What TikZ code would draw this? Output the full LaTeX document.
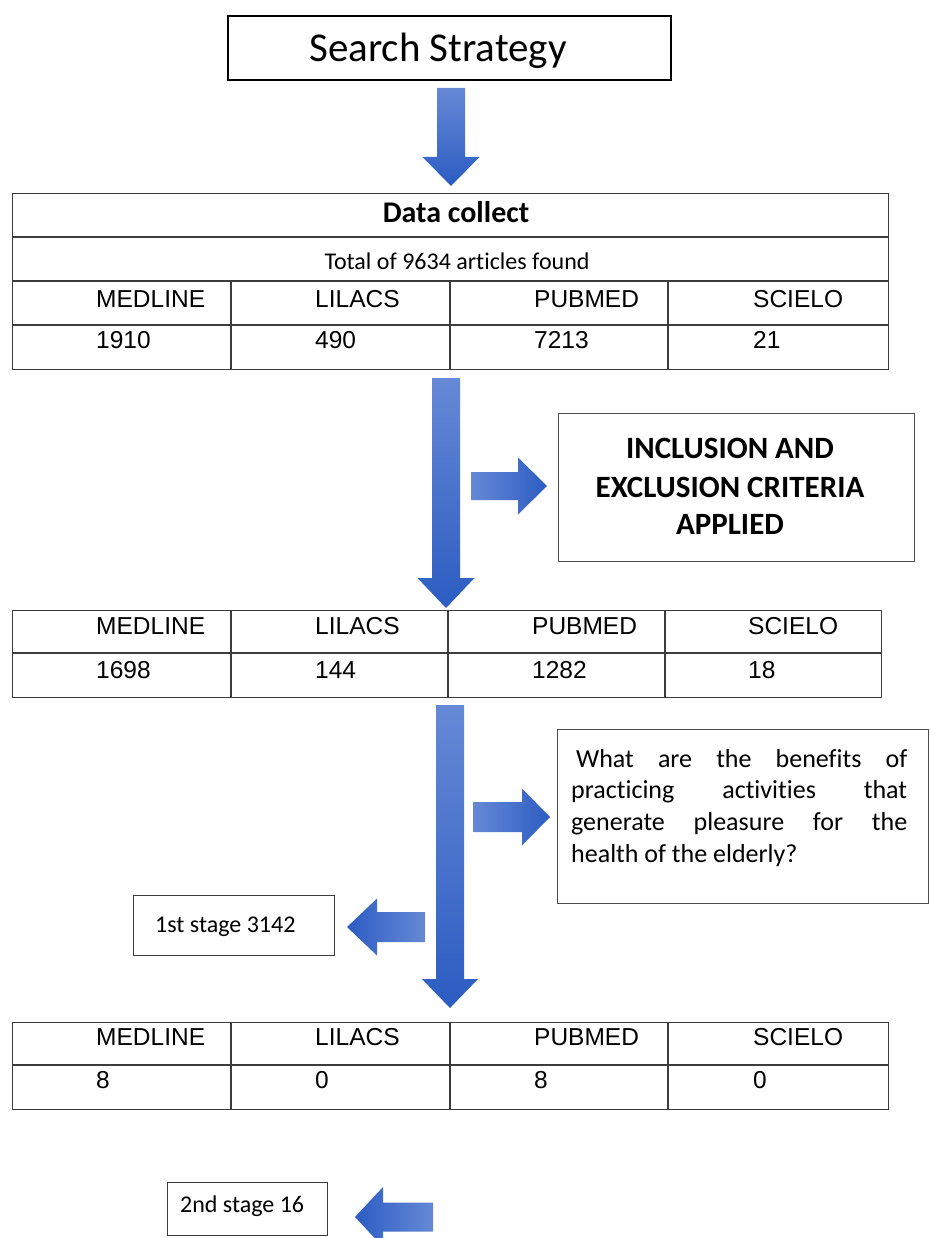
\documentclass[tikz,border=0pt]{standalone}
\usepackage{fontspec}
\setmainfont{Carlito}[Ligatures=NoCommon]
\newfontfamily\arialf{Liberation Sans}
\definecolor{arrlight}{HTML}{6689D6}
\definecolor{arrdark}{HTML}{2C5CC2}
\definecolor{boxline}{HTML}{3C3C3C}
\newcommand{\vArrow}[7]{% name, x centre, top, head start, tip, shaft half, head half
  \coordinate (#1-tail) at (#2,#3);
  \coordinate (#1-tip) at (#2,#5);
  \shade[top color=arrlight, bottom color=arrdark]
    ({#2-#6},#3) -- ({#2+#6},#3) -- ({#2+#6},#4) -- ({#2+#7},#4) -- (#1-tip)
    -- ({#2-#7},#4) -- ({#2-#6},#4) -- cycle;}
\newcommand{\hArrow}[8]{% name, y centre, tail x, head start x, tip x, shaft half, head half, shading
  \coordinate (#1-tail) at (#3,#2);
  \coordinate (#1-tip) at (#5,#2);
  \shade[#8]
    (#3,{#2-#6}) -- (#4,{#2-#6}) -- (#4,{#2-#7}) -- (#1-tip) -- (#4,{#2+#7})
    -- (#4,{#2+#6}) -- (#3,{#2+#6}) -- cycle;}
\begin{document}
\begin{tikzpicture}[x=1pt,y=-1pt,
  heavyframe/.style={draw=black, line width=2pt, inner sep=0pt, anchor=north west},
  frame/.style={draw=boxline, line width=1.4pt, inner sep=0pt, anchor=north west},
  gridline/.style={draw=boxline, line width=1.4pt},
  arialtxt/.style={font=\arialf\fontsize{24.5}{29}\selectfont, anchor=base west, inner sep=0pt},
  caltxt/.style={font=\fontsize{24}{29}\selectfont, inner sep=0pt},
  boldtxt/.style={font=\bfseries\fontsize{31}{38}\selectfont, inner sep=0pt, anchor=base},
  qtxt/.style={font=\fontsize{26}{31.7}\selectfont, inner sep=0pt, anchor=base west},
  rightshade/.style={left color=arrlight, right color=arrdark},
  leftshade/.style={left color=arrdark, right color=arrlight}]
\useasboundingbox (0,0) rectangle (930,1238);
\fill[white] (0,0) rectangle (930,1238);

% Search strategy
\node[heavyframe, minimum width=443pt, minimum height=64pt] (search) at (227,15) {};
\node[font=\fontsize{41}{48}\selectfont, inner sep=0pt, anchor=base] (searchtxt) at (438,62) {Search Strategy};

\vArrow{a1}{451}{88}{157}{186}{14}{28.5}

% Table 1
\node[frame, minimum width=876pt, minimum height=176pt] (tab1) at (12,193) {};
\draw[gridline] (12,237) -- (888,237);
\draw[gridline] (12,281) -- (888,281);
\draw[gridline] (12,325) -- (888,325);
\draw[gridline] (231,281) -- (231,369);
\draw[gridline] (450,281) -- (450,369);
\draw[gridline] (668,281) -- (668,369);
\node[font=\bfseries\fontsize{30}{36}\selectfont, inner sep=0pt, anchor=base] (dc) at (456,223) {Data collect};
\node[caltxt, anchor=base] (total) at (457,270) {Total of 9634 articles found};
\node[arialtxt] (t1h1) at (96,307) {MEDLINE};
\node[arialtxt] (t1h2) at (315,307) {LILACS};
\node[arialtxt] (t1h3) at (534,307) {PUBMED};
\node[arialtxt] (t1h4) at (753,307) {SCIELO};
\node[arialtxt] (t1v1) at (96,348) {1910};
\node[arialtxt] (t1v2) at (315,348) {490};
\node[arialtxt] (t1v3) at (534,348) {7213};
\node[arialtxt] (t1v4) at (753,348) {21};

\vArrow{a2}{446}{378}{578}{608}{14}{28.5}
\hArrow{a3}{486}{471}{518}{547}{14}{28.5}{rightshade}

% Inclusion box
\node[frame, draw=black!70, minimum width=356pt, minimum height=148pt] (incl) at (558,413) {};
\node[boldtxt] (incl1) at (730,458) {INCLUSION AND};
\node[boldtxt] (incl2) at (730,497) {EXCLUSION CRITERIA};
\node[boldtxt] (incl3) at (730,534) {APPLIED};

% Table 2
\node[frame, minimum width=869pt, minimum height=87pt] (tab2) at (12,610) {};
\draw[gridline] (12,653) -- (881,653);
\draw[gridline] (231,610) -- (231,697);
\draw[gridline] (448,610) -- (448,697);
\draw[gridline] (665,610) -- (665,697);
\node[arialtxt] (t2h1) at (96,634) {MEDLINE};
\node[arialtxt] (t2h2) at (315,634) {LILACS};
\node[arialtxt] (t2h3) at (532,634) {PUBMED};
\node[arialtxt] (t2h4) at (748,634) {SCIELO};
\node[arialtxt] (t2v1) at (96,678) {1698};
\node[arialtxt] (t2v2) at (315,678) {144};
\node[arialtxt] (t2v3) at (532,678) {1282};
\node[arialtxt] (t2v4) at (748,678) {18};

\vArrow{a4}{450}{705}{979}{1008}{14}{28}
\hArrow{a5}{817}{473}{522}{550}{15}{28.5}{rightshade}
\hArrow{a6}{927}{425}{377}{347}{15}{28.5}{leftshade}

% Question box
\node[frame, draw=black!70, minimum width=371pt, minimum height=174pt] (quest) at (557,729) {};
\node[qtxt] (q1) at (571,767) {\makebox[336pt][s]{\hspace*{5pt}What are the benefits of}};
\node[qtxt] (q2) at (571,798) {\makebox[336pt][s]{practicing activities that}};
\node[qtxt] (q3) at (571,830) {\makebox[336pt][s]{generate pleasure for the}};
\node[qtxt] (q4) at (571,862) {health of the elderly?};

% 1st stage
\node[frame, minimum width=201pt, minimum height=60pt] (st1) at (133,895) {};
\node[caltxt, anchor=base west] (st1txt) at (155,932) {1st stage 3142};

% Table 3
\node[frame, minimum width=876pt, minimum height=87pt] (tab3) at (12,1022) {};
\draw[gridline] (12,1065) -- (888,1065);
\draw[gridline] (231,1022) -- (231,1109);
\draw[gridline] (450,1022) -- (450,1109);
\draw[gridline] (668,1022) -- (668,1109);
\node[arialtxt] (t3h1) at (96,1045) {MEDLINE};
\node[arialtxt] (t3h2) at (315,1045) {LILACS};
\node[arialtxt] (t3h3) at (534,1045) {PUBMED};
\node[arialtxt] (t3h4) at (753,1045) {SCIELO};
\node[arialtxt] (t3v1) at (96,1088) {8};
\node[arialtxt] (t3v2) at (315,1088) {0};
\node[arialtxt] (t3v3) at (534,1088) {8};
\node[arialtxt] (t3v4) at (753,1088) {0};

% 2nd stage
\node[frame, minimum width=160pt, minimum height=53pt] (st2) at (167,1182) {};
\node[caltxt, anchor=base west] (st2txt) at (180,1212) {2nd stage 16};

\begin{scope}
\clip (0,0) rectangle (930,1238);
\hArrow{a7}{1217}{433}{383}{355}{14.5}{30}{leftshade}
\end{scope}
\end{tikzpicture}
\end{document}
